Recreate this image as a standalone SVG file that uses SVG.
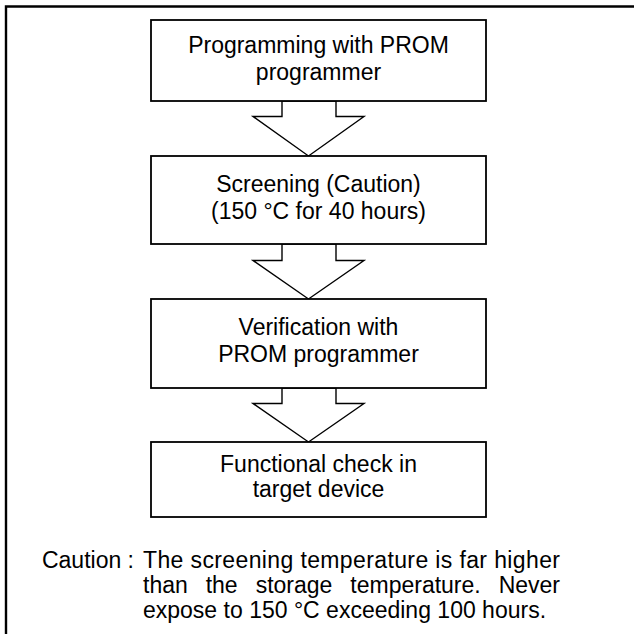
<svg xmlns="http://www.w3.org/2000/svg" width="634" height="634" viewBox="0 0 634 634">
<style>
.frame{fill:none;stroke:#000;stroke-width:2.4}
.box{fill:#fff;stroke:#000;stroke-width:1.8}
.arr{fill:#fff;stroke:#000;stroke-width:1.4;stroke-linejoin:miter}
text{font-family:"Liberation Sans",Arial,sans-serif;font-size:23px;fill:#000}
.c{text-anchor:middle}
</style>
<rect width="634" height="634" fill="#fff"/>
<path class="frame" d="M6,634 V6.5 H634"/>
<g id="connectors">
<polygon class="arr" points="282,101 336,101 336,116.5 364,116.5 308.5,156 253,116.5 282,116.5"/>
<polygon class="arr" points="282,244 336,244 336,260.5 364,260.5 308.5,299 253,260.5 282,260.5"/>
<polygon class="arr" points="282,388 336,388 336,403.5 364,403.5 308.5,442 253,403.5 282,403.5"/>
</g>
<g id="n1">
<rect class="box" x="151" y="20" width="335" height="81"/>
<text class="c" x="318.5" y="53">Programming with PROM</text>
<text class="c" x="318.5" y="80">programmer</text>
</g>
<g id="n2">
<rect class="box" x="151" y="156" width="335" height="88"/>
<text class="c" x="318.5" y="192">Screening (Caution)</text>
<text class="c" x="318.5" y="219">(150 °C for 40 hours)</text>
</g>
<g id="n3">
<rect class="box" x="151" y="299" width="335" height="89"/>
<text class="c" x="318.5" y="335">Verification with</text>
<text class="c" x="318.5" y="362">PROM programmer</text>
</g>
<g id="n4">
<rect class="box" x="151" y="442" width="335" height="75"/>
<text class="c" x="318.5" y="472">Functional check in</text>
<text class="c" x="318.5" y="497">target device</text>
</g>
<g id="caution">
<text x="134" y="568" text-anchor="end">Caution :</text>
<text x="143" y="568" textLength="417" lengthAdjust="spacing">The screening temperature is far higher</text>
<text y="593"><tspan x="143">than</tspan><tspan x="205.7">the</tspan><tspan x="255.7">storage</tspan><tspan x="350.3">temperature.</tspan><tspan x="560" text-anchor="end">Never</tspan></text>
<text x="143" y="618">expose to 150 °C exceeding 100 hours.</text>
</g>
</svg>
